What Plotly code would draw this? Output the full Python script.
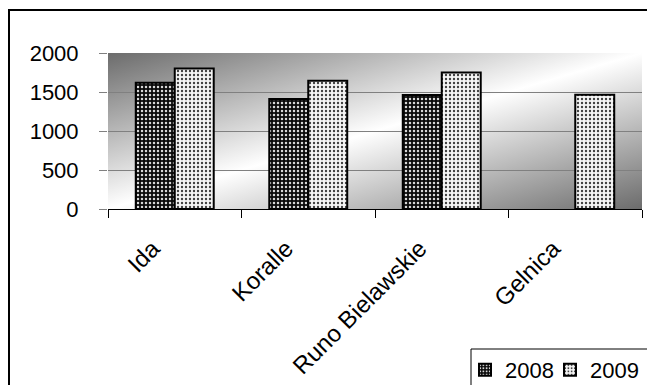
import base64
import plotly.graph_objects as go

categories = ["Ida", "Koralle", "Runo Bielawskie", "Gelnica"]
values_2008 = [1620, 1410, 1460, None]
values_2009 = [1800, 1645, 1750, 1465]
y_ticks = [0, 500, 1000, 1500, 2000]

W, H = 647, 385
L, R, T, B = 108, 5, 53, 176
pw, ph = W - L - R, H - T - B

FONT = "Liberation Sans, Arial, sans-serif"

# diagonal grey-white-grey background for the plotting area
grad_svg = (
    '<svg xmlns="http://www.w3.org/2000/svg" width="100" height="100" '
    'viewBox="0 0 100 100" preserveAspectRatio="none">'
    '<defs><linearGradient id="g" x1="0" y1="0" x2="1" y2="1">'
    '<stop offset="0" stop-color="#6c6c6c"/>'
    '<stop offset="0.5" stop-color="#ffffff"/>'
    '<stop offset="1" stop-color="#6c6c6c"/>'
    '</linearGradient></defs>'
    '<rect width="100" height="100" fill="url(#g)"/></svg>'
)
grad_src = "data:image/svg+xml;base64," + base64.b64encode(grad_svg.encode()).decode()


def px_x(p):
    return (p - L) / pw


def px_y(p):
    return (H - B - p) / ph


fig = go.Figure()
fig.add_trace(go.Bar(
    name="2008", x=categories, y=values_2008, legend="legend",
    marker=dict(
        color="black",
        line=dict(color="black", width=2),
        pattern=dict(shape=".", fgcolor="#d8d8d8", bgcolor="#0a0a0a",
                     size=4, solidity=0.3, fillmode="replace"),
    ),
))
fig.add_trace(go.Bar(
    name="2009", x=categories, y=values_2009, legend="legend2",
    marker=dict(
        color="white",
        line=dict(color="black", width=2),
        pattern=dict(shape=".", fgcolor="#404040", bgcolor="#f6f6f6",
                     size=4, solidity=0.28, fillmode="replace"),
    ),
))

legend_common = dict(
    orientation="h", y=px_y(349), xanchor="left", yanchor="top",
    bgcolor="rgba(0,0,0,0)", borderwidth=0, font=dict(size=22),
    itemwidth=30,
)

fig.update_layout(
    width=W, height=H,
    margin=dict(l=L, r=R, t=T, b=B, pad=0, autoexpand=False),
    paper_bgcolor="white",
    plot_bgcolor="rgba(0,0,0,0)",
    barmode="group", bargap=0.416, bargroupgap=0,
    font=dict(family=FONT, color="black", size=22),
    showlegend=True,
    legend=dict(x=px_x(465), **legend_common),
    legend2=dict(x=px_x(550), **legend_common),
    images=[dict(source=grad_src, xref="paper", yref="paper",
                 x=0, y=1, sizex=1, sizey=1, sizing="stretch",
                 xanchor="left", yanchor="top", layer="below")],
    shapes=[
        # outer chart frame
        dict(type="rect", xref="paper", yref="paper",
             x0=px_x(9), x1=px_x(700), y0=px_y(440), y1=px_y(10),
             line=dict(color="black", width=2), fillcolor="rgba(0,0,0,0)"),
        # legend box
        dict(type="rect", xref="paper", yref="paper",
             x0=px_x(471), x1=px_x(700), y0=px_y(440), y1=px_y(349),
             line=dict(color="black", width=1), fillcolor="white"),
    ],
)
fig.update_xaxes(
    type="category", tickson="boundaries", ticks="outside", ticklen=8,
    tickcolor="black", tickwidth=1, showline=True, linecolor="black",
    linewidth=1, showgrid=False, tickangle=-45,
    tickfont=dict(size=24, family=FONT), ticklabelstandoff=15,
    ticklabelshift=-22, fixedrange=True,
)
fig.update_yaxes(
    range=[0, 2000], tickvals=y_ticks, ticks="outside", ticklen=8,
    tickcolor="#808080", tickwidth=1, showgrid=True, gridcolor="#808080",
    gridwidth=1, zeroline=False, showline=False,
    tickfont=dict(size=22, family=FONT), ticklabelstandoff=16,
    fixedrange=True,
)

fig.write_html("out.html")
